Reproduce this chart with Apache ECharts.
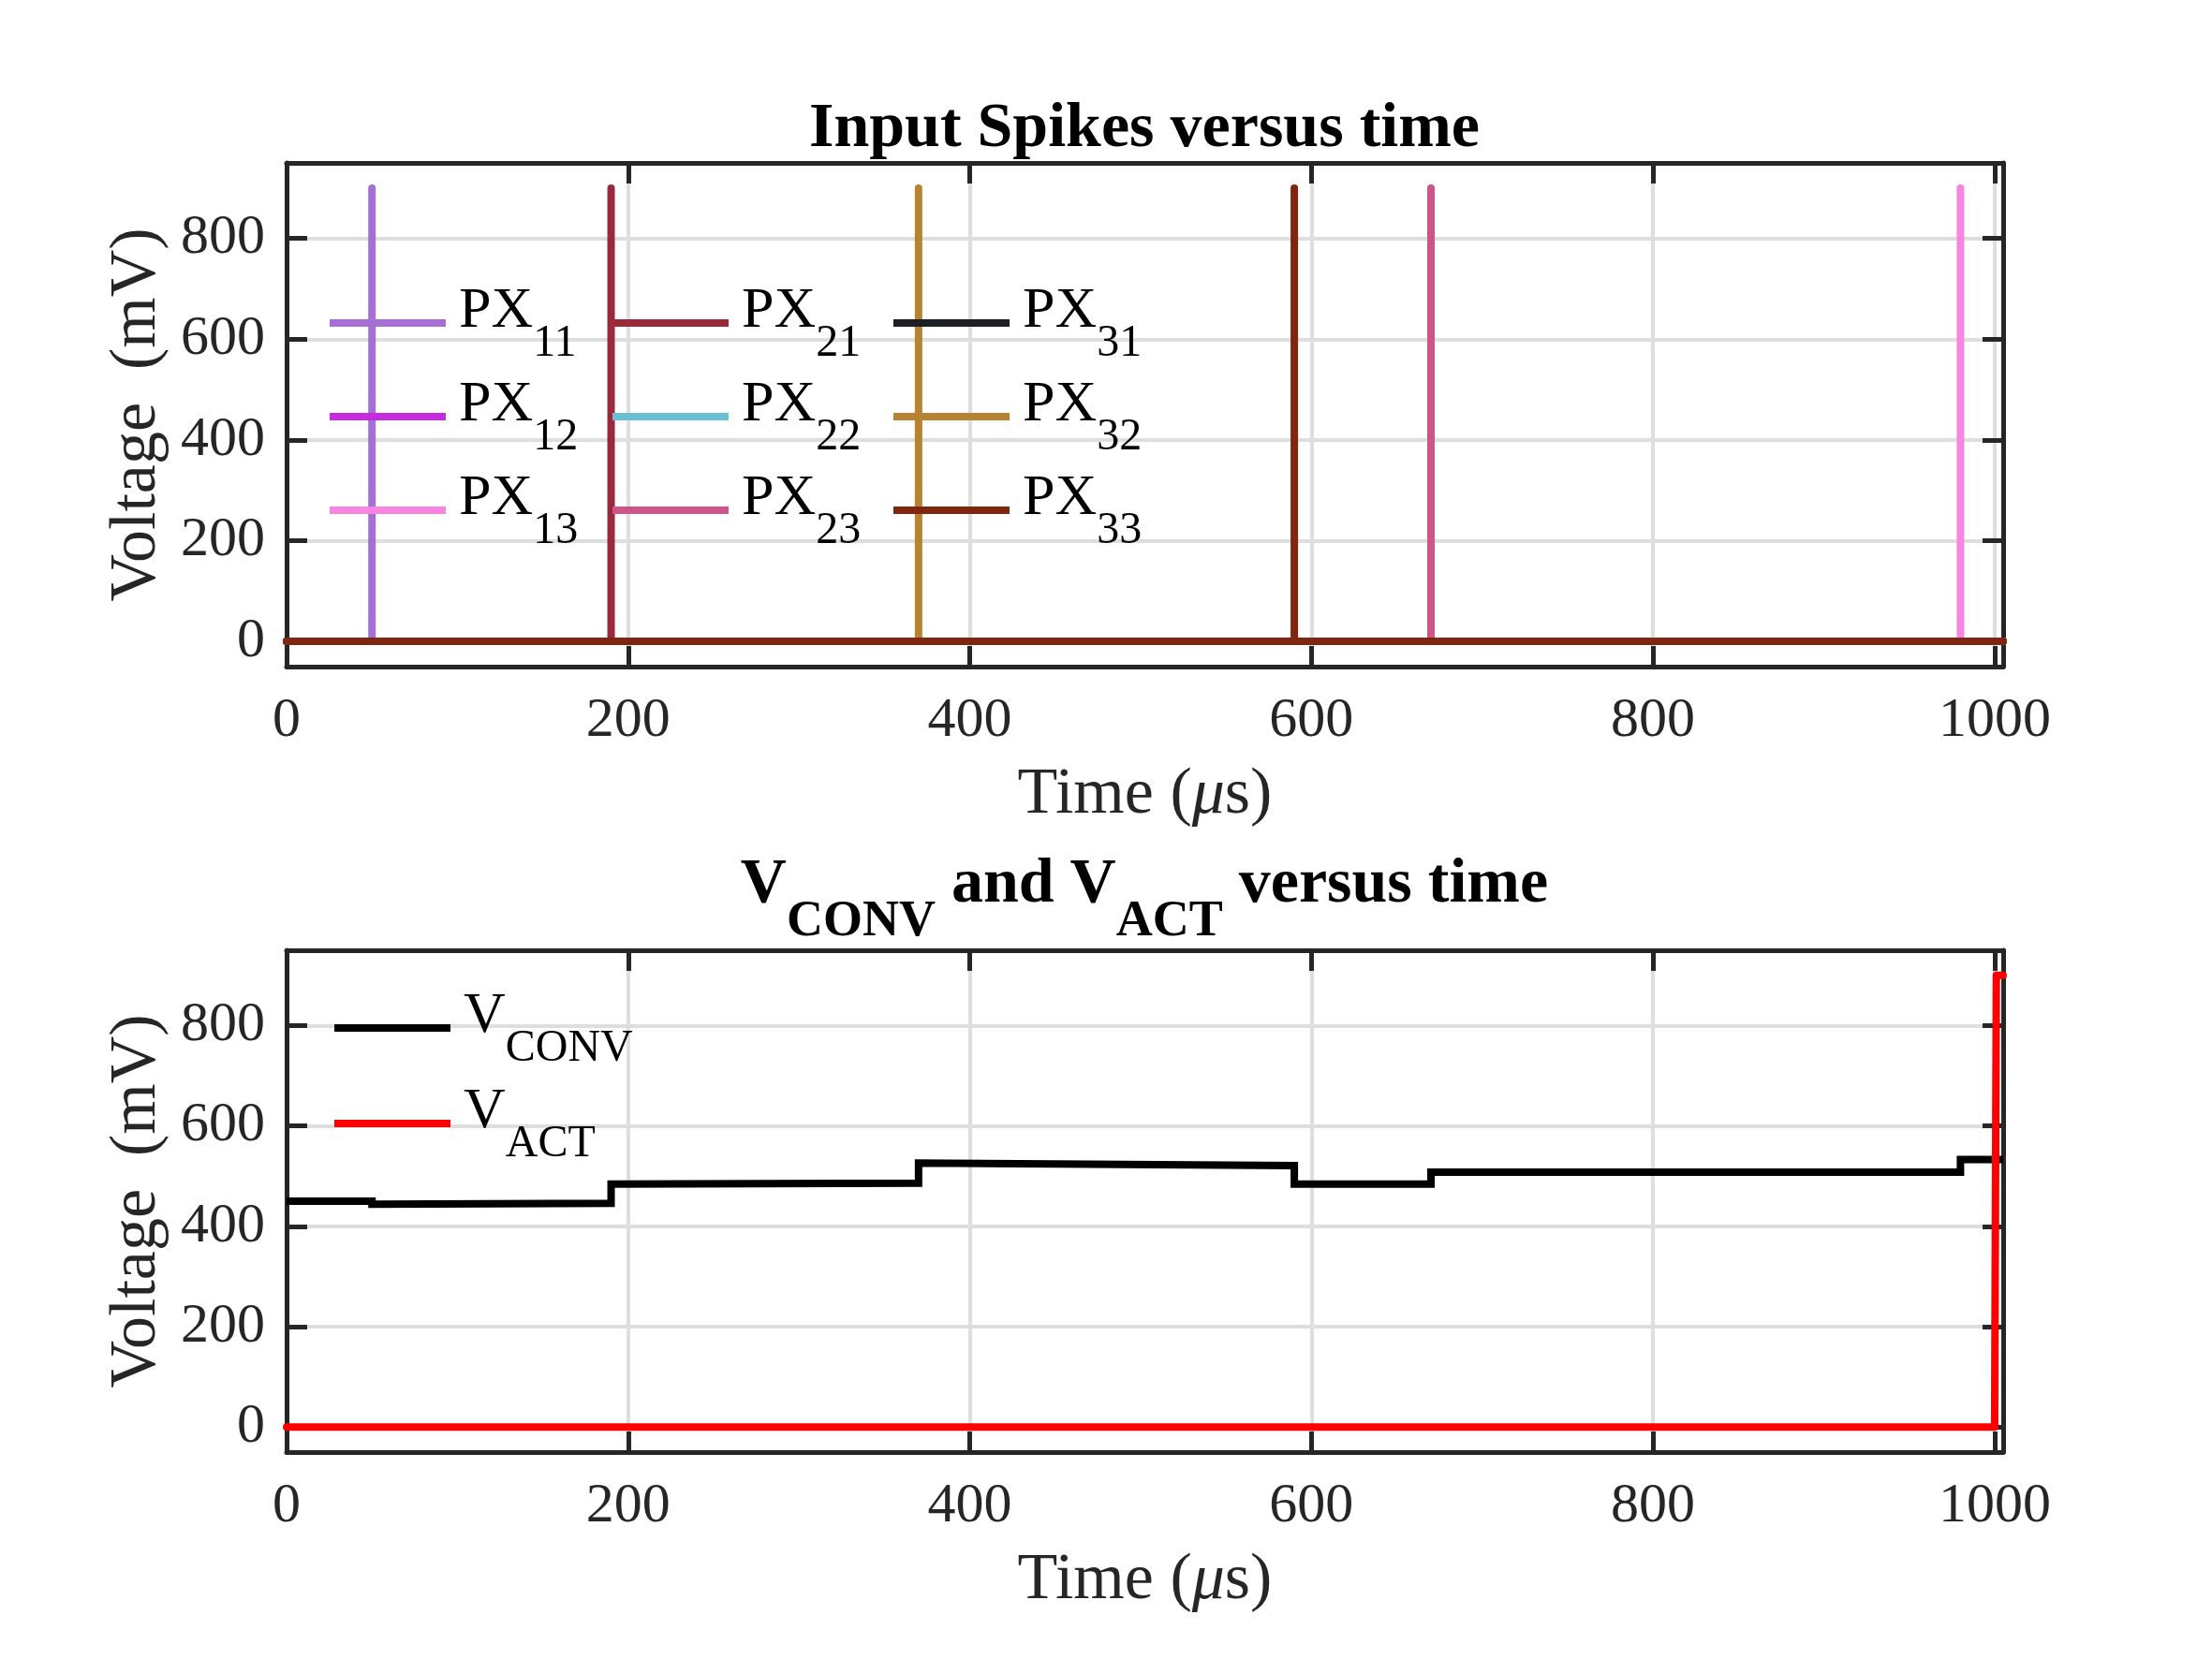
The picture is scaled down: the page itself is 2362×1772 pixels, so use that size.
<!DOCTYPE html>
<html>
<head>
<meta charset="utf-8">
<script src="https://cdn.jsdelivr.net/npm/echarts@6/dist/echarts.min.js"></script>
<style>
html, body { margin: 0; padding: 0; background: #fff; }
#chart { width: 2362px; height: 1772px; }
</style>
</head>
<body>
<div id="chart"></div>
<script>
// ---- data ----
var timeEnd = 1005;
var pxNames = ['PX11', 'PX12', 'PX13', 'PX21', 'PX22', 'PX23', 'PX31', 'PX32', 'PX33'];
var pxSpikeTimes = [50, null, 980, 190, null, 670, null, 370, 590]; // null: no visible spike
var spikeHeight = 900;

var convTimes  = [0, 50, 50, 190, 190, 370, 370, 590, 590, 670, 670, 980, 980, 1005];
var convValues = [450, 450, 444, 446, 484, 486, 526, 521, 484, 484, 508, 508, 533, 533];
var actTimes  = [0, 1000, 1001, 1005];
var actValues = [0, 0, 900, 900];

var xTicks = [0, 200, 400, 600, 800, 1000];
var yTicks = [0, 200, 400, 600, 800];

// ---- styles ----
var pxColors = ['#a66fd6', '#c42ddb', '#f985e2', '#9a2a3a', '#6bbfd4', '#cc5589', '#1c1f24', '#b68332', '#7f2610'];
var serif = '"Liberation Serif", "Times New Roman", serif';
var ink = '#262626';

function pairs(xs, ys) {
    var out = [];
    for (var i = 0; i < xs.length; i++) out.push([xs[i], ys[i]]);
    return out;
}

function spikeData(t) {
    if (t === null) return [[0, 0], [timeEnd, 0]];
    return [[0, 0], [t, 0], [t, spikeHeight], [t, 0], [timeEnd, 0]];
}

function plain(v) { return String(v); }

function xAxisPair(gridIndex) {
    var common = {
        type: 'value', gridIndex: gridIndex, min: 0, max: timeEnd,
        axisLine: { show: true, onZero: false, lineStyle: { color: ink, width: 5 } },
        axisTick: { show: true, inside: true, length: 22, customValues: xTicks, lineStyle: { color: ink, width: 5 } }
    };
    var bottom = echarts.util.merge({
        position: 'bottom',
        name: 'Time ({i|\u03bc}s)', nameLocation: 'middle', nameGap: 103,
        nameTextStyle: { fontFamily: serif, fontSize: 70, color: ink,
            rich: { i: { fontFamily: serif, fontSize: 70, fontStyle: 'italic', color: ink } } },
        axisLabel: { customValues: xTicks, formatter: plain, margin: 28, fontFamily: serif, fontSize: 60, color: ink },
        splitLine: { show: true, lineStyle: { color: '#dedede', width: 4 } }
    }, common, true);
    var top = echarts.util.merge({
        position: 'top', axisLabel: { show: false }, splitLine: { show: false }
    }, common, true);
    return [bottom, top];
}

function yAxisPair(gridIndex) {
    var common = {
        type: 'value', gridIndex: gridIndex, min: -50, max: 950,
        axisLine: { show: true, onZero: false, lineStyle: { color: ink, width: 5 } },
        axisTick: { show: true, inside: true, length: 22, customValues: yTicks, lineStyle: { color: ink, width: 5 } }
    };
    var left = echarts.util.merge({
        position: 'left',
        name: 'Voltage  (mV)', nameLocation: 'middle', nameGap: 122,
        nameTextStyle: { fontFamily: serif, fontSize: 70, color: ink },
        axisLabel: { customValues: yTicks, formatter: plain, margin: 23, fontFamily: serif, fontSize: 60, color: ink },
        splitLine: { show: true, lineStyle: { color: '#dedede', width: 4 } }
    }, common, true);
    var right = echarts.util.merge({
        position: 'right', axisLabel: { show: false }, splitLine: { show: false }
    }, common, true);
    return [left, right];
}

var legendRich = {
    m: { fontFamily: serif, fontSize: 62, lineHeight: 62, color: '#000', padding: [0, 0, 24, 9] },
    s: { fontFamily: serif, fontSize: 48, lineHeight: 48, color: '#000', padding: [44, 0, 0, 0] }
};

function legendBlock(names, left, top, gap, split) {
    return {
        data: names, orient: 'vertical', left: left, top: top, padding: 0,
        itemGap: gap, itemWidth: 124, itemHeight: 8, icon: 'rect', selectedMode: false,
        formatter: function (name) {
            return '{m|' + name.slice(0, split) + '}{s|' + name.slice(split) + '}';
        },
        textStyle: { rich: legendRich }
    };
}

var series = [];
pxNames.forEach(function (name, i) {
    series.push({
        name: name, type: 'line', xAxisIndex: 0, yAxisIndex: 0,
        data: spikeData(pxSpikeTimes[i]), showSymbol: false, symbol: 'none',
        color: pxColors[i],
        lineStyle: { color: pxColors[i], width: 8, cap: 'round', join: 'round' }
    });
});
series.push({
    name: 'VCONV', type: 'line', xAxisIndex: 2, yAxisIndex: 2,
    data: pairs(convTimes, convValues), showSymbol: false, symbol: 'none',
    color: '#000', lineStyle: { color: '#000', width: 8, join: 'miter' }
});
series.push({
    name: 'VACT', type: 'line', xAxisIndex: 2, yAxisIndex: 2,
    data: pairs(actTimes, actValues), showSymbol: false, symbol: 'none',
    color: '#ff0000', lineStyle: { color: '#ff0000', width: 8, cap: 'round', join: 'round' }
});

var chart = echarts.init(document.getElementById('chart'));
chart.setOption({
    animation: false,
    backgroundColor: '#fff',
    title: [{
        text: 'Input Spikes versus time', left: 1222, top: 104, textAlign: 'center', padding: 0,
        textStyle: { fontFamily: serif, fontSize: 68, lineHeight: 68, fontWeight: 'bold', color: '#000' }
    }, {
        text: '{m|V}{s|CONV}{m| and V}{s|ACT}{m| versus time}', left: 1222, top: 911, textAlign: 'center', padding: 0,
        textStyle: {
            rich: {
                m: { fontFamily: serif, fontSize: 68, lineHeight: 68, fontWeight: 'bold', color: '#000' },
                s: { fontFamily: serif, fontSize: 54, lineHeight: 54, fontWeight: 'bold', color: '#000', padding: [80, 0, 0, 0] }
            }
        }
    }],
    legend: [
        legendBlock(pxNames.slice(0, 3), 352, 299, 8, 2),
        legendBlock(pxNames.slice(3, 6), 654, 299, 8, 2),
        legendBlock(pxNames.slice(6, 9), 954, 299, 8, 2),
        legendBlock(['VCONV', 'VACT'], 357, 1052, 10, 1)
    ],
    grid: [
        { left: 306, top: 174, width: 1833, height: 538 },
        { left: 306, top: 1015, width: 1833, height: 536 }
    ],
    xAxis: xAxisPair(0).concat(xAxisPair(1)),
    yAxis: yAxisPair(0).concat(yAxisPair(1)),
    series: series
});
</script>
</body>
</html>
